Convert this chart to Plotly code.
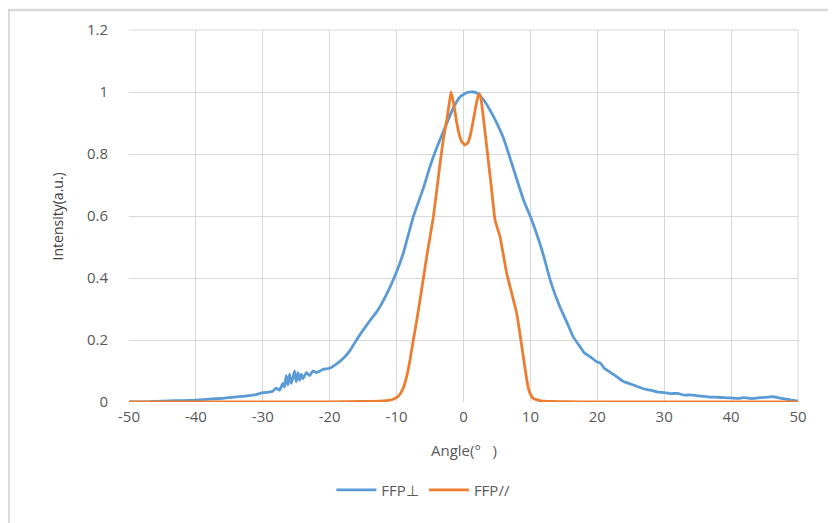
import plotly.graph_objects as go

# FFP perpendicular (blue)
perp_x = [-50, -47, -45, -43, -41, -40, -38, -36, -35, -33, -31, -30, -29, -28.5, -28, -27.5, -27, -26.75, -26.5,
          -26.25, -26, -25.75, -25.5, -25.25, -25, -24.75, -24.5, -24.25, -24, -23.5, -23, -22.5, -22, -21, -20,
          -19, -18, -17, -16, -15, -14, -13, -12.5, -11, -10, -9, -7.5, -6, -5, -4, -2.5, -1.5, -0.5, 0.5, 1.5,
          2, 3, 4, 5, 6, 7.5, 9, 10, 11.4, 12, 13, 14.4, 15.5, 16.4, 17.2, 18, 19, 19.9, 20.5, 21, 22, 23, 23.9,
          25, 26, 27, 28, 28.9, 30, 31, 32, 33, 33.9, 35, 36, 37, 38, 39, 40, 41.3, 42, 43, 44, 45, 46.3, 47,
          48, 49, 50]
perp_y = [0.0, 0.001, 0.003, 0.004, 0.005, 0.006, 0.009, 0.012, 0.014, 0.018, 0.024, 0.03, 0.032, 0.035, 0.045,
          0.038, 0.06, 0.048, 0.085, 0.055, 0.09, 0.06, 0.078, 0.1, 0.065, 0.095, 0.07, 0.09, 0.075, 0.095, 0.085,
          0.1, 0.095, 0.105, 0.109, 0.122, 0.14, 0.165, 0.2, 0.232, 0.262, 0.29, 0.307, 0.37, 0.42, 0.48, 0.598,
          0.69, 0.76, 0.82, 0.899, 0.95, 0.985, 0.998, 1.0, 0.997, 0.975, 0.94, 0.899, 0.85, 0.75, 0.65, 0.598,
          0.512, 0.47, 0.39, 0.307, 0.255, 0.21, 0.185, 0.16, 0.145, 0.13, 0.125, 0.11, 0.095, 0.08, 0.066,
          0.058, 0.05, 0.042, 0.038, 0.033, 0.03, 0.027, 0.028, 0.022, 0.023, 0.02, 0.018, 0.016, 0.015, 0.014,
          0.013, 0.012, 0.014, 0.011, 0.013, 0.015, 0.017, 0.014, 0.01, 0.006, 0.003]

# FFP parallel (orange)
par_x = [-50, -20, -15, -12.5, -11, -10.5, -10, -9.5, -9, -8.5, -8, -7.5, -7, -6.5, -5.5, -4.5, -3.5, -3.0, -2.5,
         -2.15, -1.87, -1.5, -1.0, -0.6, -0.27, 0.22, 0.6, 0.97, 1.35, 1.72, 2.1, 2.36, 2.6, 2.9, 3.47, 4.21,
         4.71, 5.46, 6.46, 7.95, 8.94, 9.4, 9.69, 10.0, 10.43, 11.5, 13.4, 15, 20, 50]
par_y = [0.0, 0.0, 0.002, 0.003, 0.006, 0.009, 0.014, 0.025, 0.045, 0.082, 0.135, 0.2, 0.262, 0.329, 0.469,
         0.598, 0.77, 0.85, 0.91, 0.96, 1.0, 0.965, 0.9, 0.86, 0.84, 0.829, 0.835, 0.856, 0.895, 0.94, 0.98,
         0.995, 0.98, 0.93, 0.824, 0.684, 0.587, 0.533, 0.415, 0.286, 0.146, 0.08, 0.045, 0.025, 0.012, 0.004,
         0.002, 0.001, 0.0, 0.0]

x_ticks = [-50, -40, -30, -20, -10, 0, 10, 20, 30, 40, 50]
x_tick_text = ["-50", "-40", "-30", "-20", "-10", "0", "10", "20", "30", "40", "50"]
y_ticks = [0, 0.2, 0.4, 0.6, 0.8, 1, 1.2]
y_tick_text = ["0", "0.2", "0.4", "0.6", "0.8", "1", "1.2"]

font_family = "Open Sans"
grey = "#595959"

fig = go.Figure()
fig.add_trace(go.Scatter(x=perp_x, y=perp_y, mode="lines", name="FFP\u22a5",
                         line=dict(color="#5b9bd5", width=2.8, shape="spline", smoothing=0.4)))
fig.add_trace(go.Scatter(x=par_x, y=par_y, mode="lines", name="FFP//",
                         line=dict(color="#ed7d31", width=2.8, shape="spline", smoothing=0.4)))

fig.update_layout(
    width=836, height=523,
    margin=dict(l=121, r=46, t=22, b=129),
    paper_bgcolor="white", plot_bgcolor="white",
    font=dict(family=font_family, size=14, color=grey),
    showlegend=True,
    legend=dict(orientation="h", x=0.44, xanchor="center", y=-0.237, yanchor="middle",
                font=dict(size=15, color=grey), itemwidth=40),
    xaxis=dict(range=[-50, 50], tickvals=x_ticks, ticktext=x_tick_text, showgrid=True,
               gridcolor="#d9d9d9", gridwidth=1, zeroline=False, showline=False, ticks="",
               ticklabelstandoff=4, tickfont=dict(size=15, color=grey)),
    yaxis=dict(range=[0, 1.2], tickvals=y_ticks, ticktext=y_tick_text, showgrid=True,
               gridcolor="#d9d9d9", gridwidth=1, zeroline=False, showline=False, ticks="",
               ticklabelstandoff=20, tickfont=dict(size=15, color=grey)),
    annotations=[
        dict(text="Angle(\u00b0\u00a0\u00a0\u00a0)", xref="paper", yref="paper", x=0.5, y=-0.129,
             xanchor="center", yanchor="middle", showarrow=False, font=dict(size=15, color=grey)),
        dict(text="Intensity(a.u.)", xref="paper", yref="paper", x=-0.107, y=0.5, textangle=-90,
             xanchor="center", yanchor="middle", showarrow=False, font=dict(size=14, color="#404040")),
    ],
    shapes=[
        dict(type="rect", xref="paper", yref="paper", x0=-0.18, x1=1.07, y0=-0.36, y1=1.0538,
             line=dict(color="#d9d9d9", width=2.5), layer="below"),
        dict(type="line", xref="paper", yref="paper", x0=1, x1=1, y0=0, y1=1,
             line=dict(color="#d9d9d9", width=1), layer="below"),
        dict(type="line", xref="paper", yref="paper", x0=0, x1=1, y0=1, y1=1,
             line=dict(color="#d9d9d9", width=1), layer="below"),
    ],
)

fig.write_html("out.html")
